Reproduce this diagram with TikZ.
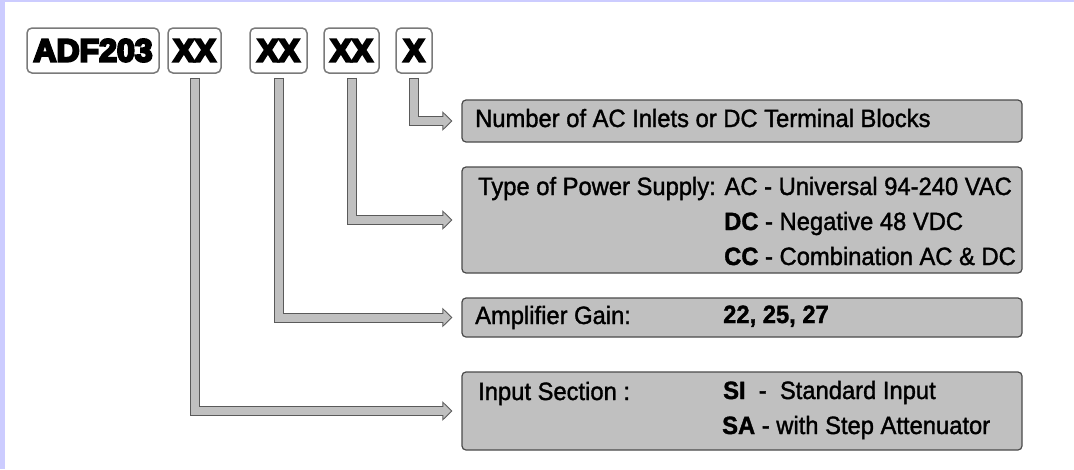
\documentclass[tikz,border=0pt]{standalone}
\usepackage{fontspec}
\setmainfont[FakeStretch=0.95]{Liberation Sans}
\newfontfamily\codefont{Liberation Sans}
\usetikzlibrary{arrows.meta,positioning}
\definecolor{frame}{HTML}{CCCCFF}
\definecolor{partfill}{HTML}{C0C0C0}
\definecolor{partedge}{HTML}{4A4A4A}
\definecolor{arredge}{HTML}{5A5A5A}
\definecolor{codeedge}{HTML}{7A7A7A}

\begin{document}
\begin{tikzpicture}[
    x=1pt, y=-1pt,
    font=\fontsize{25}{30}\selectfont,
    code/.style={
        draw=codeedge,
        fill=white,
        rounded corners=5pt,
        line width=1.5pt,
        minimum height=45pt,
        inner sep=0pt,
        font=\codefont\bfseries\fontsize{32}{32}\selectfont,
        execute at begin node={\special{pdf:literal direct 2 Tr 2.2 w}},
        execute at end node={\special{pdf:literal direct 0 Tr}}
    },
    part/.style={
        draw=partedge,
        fill=partfill,
        rounded corners=4pt,
        line width=1.2pt,
        minimum width=560pt,
        inner sep=0pt
    },
    txt/.style={anchor=base west, inner sep=0pt,
        execute at begin node={\special{pdf:literal direct 2 Tr 0.35 w}},
        execute at end node={\special{pdf:literal direct 0 Tr}}},
    arrout/.style={line width=10pt, draw=arredge,
        shorten <=4pt, shorten >=9pt,
        -{Triangle[length=10pt,width=19pt]}},
    arrin/.style={line width=8pt, draw=partfill,
        shorten <=5pt, shorten >=10.45pt,
        -{Triangle[length=7.55pt,width=14.3pt]}}
]
    %% Rahmen
    \useasboundingbox (0,0) rectangle (1074,469);
    \fill[frame] (0,0) rectangle (1074,469);
    \fill[white] (5,2) rectangle (1074,469);

    %% Bestellcode
    \node[code, minimum width=132pt] (adf) at (93,50.5) {ADF203};
    \node[code, minimum width=53pt] (xxa) at (194.5,50.5) {XX};
    \node[code, minimum width=57pt] (xxb) at (278.5,50.5) {XX};
    \node[code, minimum width=55pt] (xxc) at (351.5,50.5) {XX};
    \node[code, minimum width=36pt] (xn) at (414,50.5) {X};

    %% Erklaerungen
    \node[part, minimum height=42pt] (num) at (742,121) {};
    \node[part, minimum height=106pt] (psu) at (742,220) {};
    \node[part, minimum height=39pt] (gain) at (742,317.5) {};
    \node[part, minimum height=78pt] (inp) at (742,411) {};

    \node[txt] (numtxt) at (475,127) {Number of AC Inlets or DC Terminal Blocks};
    \node[txt] (psua) at (478,195) {Type of Power Supply: AC - Universal 94-240 VAC};
    \node[txt] (psub) at (724,230) {\textbf{DC} - Negative 48 VDC};
    \node[txt] (psuc) at (724,265) {\textbf{CC} - Combination AC \& DC};
    \node[txt] (gaintxt) at (475,324) {Amplifier Gain:};
    \node[txt] (gainval) at (723,323) {\textbf{22, 25, 27}};
    \node[txt] (inptxt) at (478,400) {Input Section :};
    \node[txt] (inpa) at (723,399) {\textbf{SI}\ \ -\ \ Standard Input};
    \node[txt] (inpb) at (722,434) {\textbf{SA}\ - with Step Attenuator};

    %% Pfeile
    \foreach \src/\dst in {xn/num, xxc/psu, xxb/gain, xxa/inp} {
        \draw[arrout] (\src.south) |- (\dst.west);
        \draw[arrin] (\src.south) |- (\dst.west);
    }
\end{tikzpicture}
\end{document}
